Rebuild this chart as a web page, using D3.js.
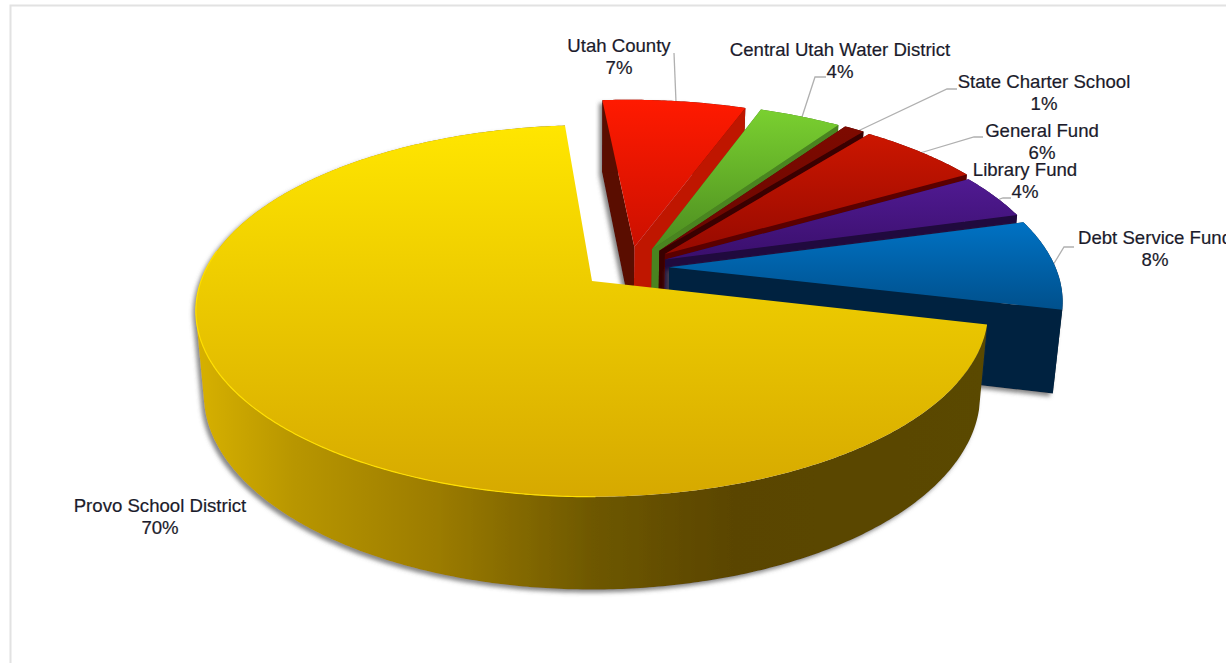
<!DOCTYPE html>
<html>
<head>
<meta charset="utf-8">
<script src="https://cdn.jsdelivr.net/npm/d3@7/dist/d3.min.js"></script>
<style>
  html, body { margin: 0; padding: 0; background: #fff; overflow: hidden; }
  text { font-family: "Liberation Sans", Arial, sans-serif; font-size: 18.6px; fill: #1b1b2b; stroke: #1b1b2b; stroke-width: 0.2px; text-anchor: middle; }
</style>
</head>
<body>
<svg id="chart" width="1226" height="663"></svg>
<script>
// Property tax distribution by recipient
const categories = ["Provo School District", "Utah County", "Central Utah Water District",
                    "State Charter School", "General Fund", "Library Fund", "Debt Service Fund"];
const shares = [70, 7, 4, 1, 6, 4, 8];

// Face colours per slice
const topLight  = ["#ffe600", "#ff1a00", "#7ad030", "#7e0a00", "#cc1600", "#501a92", "#0072c4"];
const topDark   = ["#d6a900", "#cc1000", "#4c8c20", "#6a0600", "#960a00", "#3a0f6c", "#00508c"];
const startFace = ["#000000", "#5a0a00", "#3a7018", "#4a0000", "#5a0000", "#200a3e", "#00243f"];
const endFace   = ["#000000", "#bf1500", "#4a8420", "#3a0000", "#5a0000", "#200a3e", "#00243f"];

// Extra sideways explosion per slice, in pie radii
const sideNudge = [0, 0.015, 0.022, 0.025, 0.02, 0, 0];

// Leader lines as [x, y] vertices, one list per labelled slice (the largest slice has none)
const leaderLines = [
  [],
  [[674, 53], [676, 102]],
  [[826, 77], [815, 77], [802, 117]],
  [[957, 89], [947, 89], [858, 131]],
  [[983, 137], [974, 137], [920, 153]],
  [[1011, 198], [1003, 198], [997, 200]],
  [[1074, 247], [1064, 247], [1053, 265]]
];
// Label anchors: centre x, baseline of the name line
const labelX = [160, 619, 840, 1044, 1042, 1025, 1155];
const labelY = [512, 52, 56, 88, 137, 176, 244];

const svg = d3.select("#chart");
const defs = svg.append("defs");

// Perspective projection of the pie plane; z runs from the top face (0) to the base (1)
const cx = 592, cy = 281, fx = 391, fy = 181, persp = 0.161, depth = 84, baseShrink = 0.02;
function project(X, Y, z) {
  const w = 1 - persp * Y + baseShrink * z;
  return [cx + fx * X / w, cy + (fy * Y + depth * z) / w];
}

// Exploded slices move along their bisector, and the whole exploded group sits up and to the right
const explode = 0.12, groupDX = 0.08, groupDY = -0.075;

const pie = d3.pie().sort(null)
  .startAngle(103.4 * Math.PI / 180)
  .endAngle((103.4 + 360) * Math.PI / 180);
const arcs = pie(shares);

const line = d3.line();

function apexOf(a, i) {
  if (i === 0) return [0, 0];
  const mid = (a.startAngle + a.endAngle) / 2;
  return [explode * Math.sin(mid) + groupDX + sideNudge[i], -explode * Math.cos(mid) + groupDY];
}
function rimPoints(a, apex, z) {
  const n = Math.max(6, Math.ceil((a.endAngle - a.startAngle) / 0.01));
  return d3.range(n + 1).map(k => {
    const t = a.startAngle + (a.endAngle - a.startAngle) * k / n;
    return project(apex[0] + Math.sin(t), apex[1] - Math.cos(t), z);
  });
}
// Curved wall as a union of quads wound the same way, so the silhouette stays solid where the surface folds
function wallPath(top, base) {
  let d = "";
  for (let k = 0; k < top.length - 1; k++) {
    const q = [top[k], top[k + 1], base[k + 1], base[k]];
    d += line(d3.polygonArea(q) < 0 ? q.slice().reverse() : q) + "Z";
  }
  return d;
}

// Gradients
const wallGrad = defs.append("linearGradient").attr("id", "provoWall")
  .attr("gradientUnits", "userSpaceOnUse").attr("x1", 200).attr("x2", 985).attr("y1", 0).attr("y2", 0);
[[0, "#d6b000"], [0.12, "#b89600"], [0.3, "#9c7c00"], [0.5, "#6e5800"], [0.68, "#5a4500"], [1, "#5a4800"]]
  .forEach(s => wallGrad.append("stop").attr("offset", s[0]).attr("stop-color", s[1]));

categories.forEach((c, i) => {
  const g = defs.append("linearGradient").attr("id", "top" + i).attr("x1", 0).attr("x2", 0).attr("y1", 0).attr("y2", 1);
  g.append("stop").attr("offset", 0).attr("stop-color", topLight[i]);
  g.append("stop").attr("offset", 1).attr("stop-color", topDark[i]);
});

const shadow = defs.append("filter").attr("id", "wallShadow")
  .attr("x", "-5%").attr("y", "-5%").attr("width", "110%").attr("height", "110%");
shadow.append("feDropShadow").attr("dx", -3).attr("dy", 3).attr("stdDeviation", 2)
  .attr("flood-color", "#555").attr("flood-opacity", 0.7);

// Frame of the sheet
svg.append("path").attr("d", line([[10.5, 663], [10.5, 5.5], [1226, 5.5]]))
  .attr("fill", "none").attr("stroke", "#e2e2e2").attr("stroke-width", 2);

// Leader lines sit beneath the slices
svg.selectAll("path.leader").data(leaderLines.filter(l => l.length)).join("path")
  .attr("class", "leader").attr("d", line).attr("fill", "none")
  .attr("stroke", "#b0b0b0").attr("stroke-width", 1.3);

// Painter's order: the small slices from back to front, the big slice last
const order = [1, 2, 3, 4, 5, 6, 0];
order.forEach(i => {
  const a = arcs[i], apex = apexOf(a, i);
  const g = svg.append("g").attr("class", "slice");
  const top = rimPoints(a, apex, 0), base = rimPoints(a, apex, 1);
  const apexTop = project(apex[0], apex[1], 0), apexBase = project(apex[0], apex[1], 1);

  const walls = g.append("g");
  if (i === 0 || i === 1 || i === 6) walls.attr("filter", "url(#wallShadow)");

  if (i !== 0) {
    // Cut face at the start of the sweep
    walls.append("path").attr("fill", startFace[i])
      .attr("d", line([apexTop, top[0], base[0], apexBase]) + "Z");
  }
  // Curved outer wall
  walls.append("path")
    .attr("fill", i === 0 ? "url(#provoWall)" : startFace[i])
    .attr("d", wallPath(top, base));
  if (i !== 0) {
    // Cut face at the end of the sweep
    walls.append("path").attr("fill", endFace[i])
      .attr("d", line([apexTop, top[top.length - 1], base[base.length - 1], apexBase]) + "Z");
  }

  // Top face
  g.append("path").attr("fill", `url(#top${i})`)
    .attr("d", line([apexTop].concat(top)) + "Z");

  // Bright edge along the lower-left rim of the big slice
  if (i === 0) {
    g.append("path").attr("fill", "none").attr("stroke", "#ffdf00").attr("stroke-width", 1.2)
      .attr("d", line(top.filter((p, k) => k > top.length * 0.3 && k < top.length * 0.7)));
  }
});

// Labels: name on the first line, share on the second
const labels = svg.selectAll("g.label").data(categories).join("g").attr("class", "label");
labels.append("text").attr("x", (d, i) => labelX[i]).attr("y", (d, i) => labelY[i]).text(d => d);
labels.append("text").attr("x", (d, i) => labelX[i]).attr("y", (d, i) => labelY[i] + 21.5)
  .text((d, i) => shares[i] + "%");
</script>
</body>
</html>
